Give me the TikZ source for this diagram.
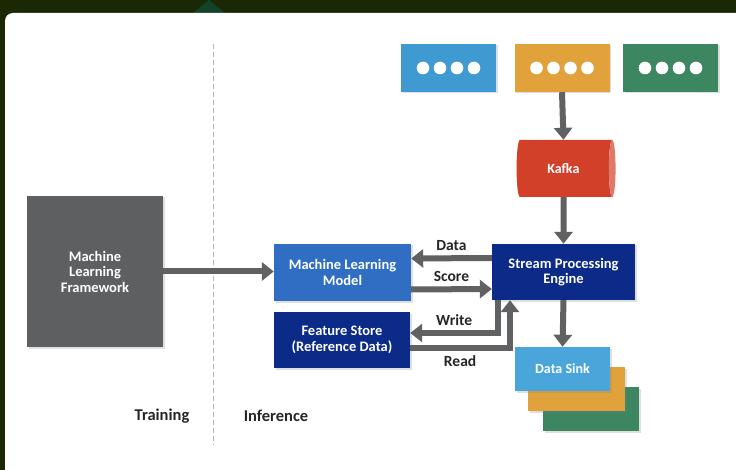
\documentclass[tikz,border=0pt]{standalone}
\usepackage{fontspec}
\setmainfont{Carlito}
\usepackage{tikz}
\usetikzlibrary{arrows.meta,shapes.geometric,shadows}

\definecolor{frame}{HTML}{1A2904}
\definecolor{srcblue}{HTML}{3F9AD2}
\definecolor{srcorange}{HTML}{E2A23B}
\definecolor{srcgreen}{HTML}{3D8662}
\definecolor{kafkared}{HTML}{D3402A}
\definecolor{navy}{HTML}{0C2A87}
\definecolor{mlblue}{HTML}{2F6EC3}
\definecolor{sinkblue}{HTML}{4AA5DA}
\definecolor{arrowgray}{HTML}{606163}
\definecolor{boxgray}{HTML}{5E5F61}

\tikzset{
  box/.style={rectangle, fill=#1, text=white, align=center,
    font=\bfseries\fontsize{14.5}{15.5}\selectfont,
    drop shadow={shadow xshift=1.5pt, shadow yshift=-1.5pt, opacity=0.25}},
  flow/.style={draw=arrowgray, line width=6pt, -{Triangle[width=18pt,length=12pt]}},
  flowlabel/.style={text=black!85, font=\bfseries\fontsize{15.5}{16}\selectfont},
  sidelabel/.style={text=black!85, font=\bfseries\fontsize{16.5}{17}\selectfont}
}

% event source with four dots: name, x, colour
\newcommand\srcbox[3]{
  \node[box=#3, minimum width=95pt, minimum height=48pt] (#1) at (#2,68) {};
  \foreach \dx in {-25.5,-8.5,8.5,25.5}
    \fill[white] (#2+\dx,68) circle (6.3pt);
}

\begin{document}
\begin{tikzpicture}[x=1pt, y=-1pt]
  \useasboundingbox (0,0) rectangle (736,470);

  % frame and card
  \fill[frame] (0,0) rectangle (736,470);
  \fill[teal!30!frame] (193,13) -- (209,0) -- (225,13) -- cycle;
  \fill[white, rounded corners=8pt] (5,13) rectangle (760,490);

  % training / inference split
  \draw[gray!55, line width=1pt, dash pattern=on 5pt off 3pt] (213,44) -- (213,445);
  \node[sidelabel] (train) at (162,416) {Training};
  \node[sidelabel] (infer) at (276,416) {Inference};

  % sources
  \srcbox{srcA}{448.5}{srcblue}
  \srcbox{srcB}{562}{srcorange}
  \srcbox{srcC}{670.5}{srcgreen}

  \node[cylinder, shape aspect=0.4, minimum width=57pt, minimum height=99pt,
    cylinder uses custom fill, cylinder body fill=kafkared,
    cylinder end fill=kafkared!70!white, text=white,
    font=\bfseries\fontsize{14}{15}\selectfont] (kafka) at (563.5,168.5) {Kafka};

  \node[box=navy, minimum width=143pt, minimum height=56pt] (spe) at (563.5,272) {Stream Processing\\Engine};
  \node[box=mlblue, minimum width=137pt, minimum height=57pt] (ml) at (342.5,272.5) {Machine Learning\\Model};
  \node[box=navy, minimum width=136pt, minimum height=56pt] (fs) at (342,340) {Feature Store\\(Reference Data)};
  \node[box=boxgray, minimum width=136pt, minimum height=151pt] (fw) at (95,271.5) {Machine\\Learning\\Framework};

  % sinks, back to front
  \node[box=srcgreen, minimum width=96pt, minimum height=44pt] (sinkC) at (591,409) {};
  \node[box=srcorange, minimum width=97pt, minimum height=44pt] (sinkB) at (576.5,389) {};
  \node[box=sinkblue, minimum width=95pt, minimum height=44pt,
    font=\bfseries\fontsize{14}{15}\selectfont] (sink) at (562.5,369) {Data Sink};

  % arrows
  \draw[flow] (srcB.south) -- (kafka.north);
  \draw[flow] (kafka.south) -- (spe.north);
  \draw[flow] (fw.east) -- (fw.east -| ml.west);
  \draw[flow] ([yshift=14pt]spe.west) -- node[flowlabel, above=1pt] (lblData) {Data} ([yshift=14pt]ml.east);
  \draw[flow] ([yshift=-17pt]ml.east) -- node[flowlabel, above=1pt] (lblScore) {Score} ([yshift=-17pt]spe.west);
  \draw[flow] ([xshift=-65.5pt]spe.south) |- node[flowlabel, above=1pt, pos=0.75] (lblWrite) {Write} ([yshift=7pt]fs.east);
  \draw[flow] ([yshift=-8pt]fs.east) -| node[flowlabel, below=1pt, pos=0.25] (lblRead) {Read} ([xshift=-53.5pt]spe.south);
  \draw[flow] (spe.south) -- (sink.north);
\end{tikzpicture}
\end{document}
